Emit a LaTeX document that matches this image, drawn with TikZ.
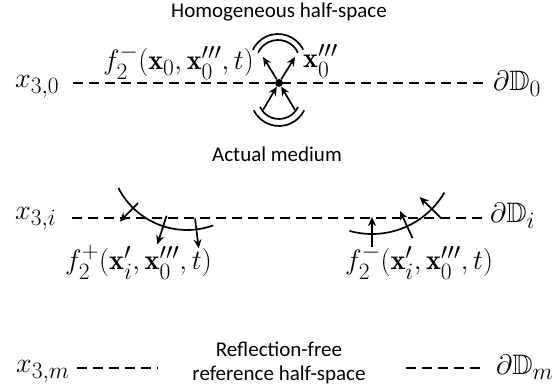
\documentclass[tikz,border=0pt]{standalone}
\usepackage{graphicx}
\usepackage{fontspec}
\usepackage{amsmath,amssymb}
\newfontfamily\labelfont{Carlito}
\newcommand{\mtx}[1]{\scalebox{1.13}{$#1$}}
\usetikzlibrary{arrows.meta,calc}
\begin{document}
\begin{tikzpicture}[x=1pt,y=1pt,
  bnd/.style={line width=1.8pt, dash pattern=on 10pt off 6pt},
  curve/.style={line width=1.7pt},
  ray/.style={line width=1.7pt,-{Stealth[length=9pt,width=8pt]}},
  mlab/.style={inner sep=0pt, font=\fontsize{24.88}{30}\selectfont},
  tlab/.style={inner sep=0pt, font=\labelfont\fontsize{21}{24}\selectfont},
]
\useasboundingbox (0,0) rectangle (559,387);

% ---- top interface
\coordinate (l0a) at (73,304); \coordinate (l0b) at (489,304);
\draw[bnd] (l0a) -- (l0b);
\node[mlab, anchor=base west] (x30) at (15,299) {\mtx{x_{3,0}}};
\node[mlab, anchor=base west] (D0) at (493,296) {\mtx{\partial\mathbb{D}_0}};
\node[tlab, anchor=base] (hom) at (279,369) {Homogeneous half-space};
\node[mlab, anchor=base east] (fm0) at (254,317) {\mtx{f_2^-(\mathbf{x}_0,\mathbf{x}_0''',t)}};
\node[mlab, anchor=base west] (x0) at (303,319) {\mtx{\mathbf{x}_0'''}};
\node[circle, fill, inner sep=0pt, minimum size=8pt] (src) at (279,304) {};
\coordinate (tl) at (263,330); \coordinate (tr) at (295,330);
\coordinate (bl) at (263,277); \coordinate (br) at (295,277);
\draw[ray] (src) -- (tl);
\draw[ray] (src) -- (tr);
\draw[ray] (bl) -- (src);
\draw[ray] (br) -- (src);
\coordinate (tc) at (278,325);
\draw[curve] ($(tc)+(25:22)$) arc[start angle=25, end angle=155, radius=22];
\draw[curve] ($(tc)+(26:28)$) arc[start angle=26, end angle=154, radius=28];
\coordinate (bc) at (279,289);
\draw[curve] ($(bc)+(205:21)$) arc[start angle=205, end angle=335, radius=21];
\draw[curve] ($(bc)+(206:28)$) arc[start angle=206, end angle=334, radius=28];

% ---- actual medium
\node[tlab, anchor=base] (act) at (277,225) {Actual medium};
\coordinate (l1a) at (72,169); \coordinate (l1b) at (488,169);
\draw[bnd] (l1a) -- (l1b);
\node[mlab, anchor=base west] (x3i) at (15,167) {\mtx{x_{3,i}}};
\node[mlab, anchor=base west] (Di) at (490,164) {\mtx{\partial\mathbb{D}_i}};

% left (downgoing) wavefront
\coordinate (Lc) at (187,234);
\draw[curve] ($(Lc)+(207:77)$) arc[start angle=207, end angle=290, radius=77];
\foreach \a/\r in {225.6/70, 252/66, 277/66}
  \draw[ray] ($(Lc)+(\a:\r)$) -- ($(Lc)+(\a:96)$);
\node[mlab, anchor=base west] (fp) at (65,117) {\mtx{f_2^+(\mathbf{x}_i',\mathbf{x}_0''',t)}};

% right (upgoing) wavefront
\coordinate (Rc) at (372,237);
\draw[curve] ($(Rc)+(254.4:84)$) arc[start angle=254.4, end angle=329.5, radius=84];
\foreach \a in {270, 294.7, 315.4}
  \draw[ray] ($(Rc)+(\a:97)$) -- ($(Rc)+(\a:67)$);
\node[mlab, anchor=base west] (fmi) at (345,117) {\mtx{f_2^-(\mathbf{x}_i',\mathbf{x}_0''',t)}};

% ---- reference half-space
\coordinate (l2a) at (77,19); \coordinate (l2b) at (158,19);
\coordinate (l2c) at (480,19); \coordinate (l2d) at (401,19);
\draw[bnd] (l2a) -- (l2b);
\draw[bnd] (l2c) -- (l2d);
\node[mlab, anchor=base west] (x3m) at (16,14) {\mtx{x_{3,m}}};
\node[mlab, anchor=base west] (Dm) at (496,12) {\mtx{\partial\mathbb{D}_m}};
\node[tlab, align=center, anchor=center] (ref) at (279,24) {Reflection-free\\reference half-space};
\end{tikzpicture}
\end{document}
